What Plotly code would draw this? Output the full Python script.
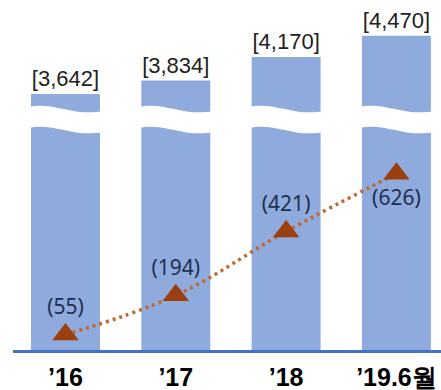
import plotly.graph_objects as go

categories = ["’16", "’17", "’18", "’19.6월"]
bar_values = [3642, 3834, 4170, 4470]
line_values = [55, 194, 421, 626]
line_text_pos = ["top center", "top center", "top center", "bottom center"]

fig = go.Figure()

fig.add_trace(go.Bar(
    x=categories, y=bar_values, width=0.625,
    marker=dict(color="#8FAADC", line=dict(width=0)),
    text=[f"[{v:,}]" for v in bar_values],
    textposition="outside", constraintext="none", cliponaxis=False,
    outsidetextfont=dict(family="Liberation Sans", size=22, color="#222222"),
    showlegend=False,
))

fig.add_trace(go.Scatter(
    x=categories, y=line_values, yaxis="y2", mode="lines",
    line=dict(color="#C0682E", width=3.5, dash="3px,4px", shape="spline", smoothing=1.1),
    showlegend=False, cliponaxis=False,
))

fig.add_trace(go.Scatter(
    x=categories, y=line_values, yaxis="y2", mode="markers+text",
    marker=dict(symbol="triangle-up", size=23, color="#9C3F0F"),
    text=[f"({v})" for v in line_values], textposition=line_text_pos,
    textfont=dict(family="Noto Sans", size=21, color="#1F2F4F"),
    showlegend=False, cliponaxis=False,
))

# wavy white break across each bar (decoration)
H = 350.0
def py(p):
    return (H - p) / H

shapes = []
for i in range(len(categories)):
    x0 = i - 0.34
    x3 = i + 0.34
    w = x3 - x0
    x1 = x0 + 0.35 * w
    x2 = x0 + 0.6 * w
    top = [107, 101, 117, 111]
    bot = [t + 21 for t in top]
    path = (f"M {x0},{py(top[0])} C {x1},{py(top[1])} {x2},{py(top[2])} {x3},{py(top[3])} "
            f"L {x3},{py(bot[3])} C {x2},{py(bot[2])} {x1},{py(bot[1])} {x0},{py(bot[0])} Z")
    shapes.append(dict(type="path", xref="x", yref="paper", path=path,
                       fillcolor="white", line=dict(width=0), layer="above"))

fig.update_layout(
    width=441, height=390,
    margin=dict(l=13, r=0, t=0, b=40),
    paper_bgcolor="white", plot_bgcolor="white",
    shapes=shapes,
    xaxis=dict(range=[-0.4758, 3.404], showgrid=False, zeroline=False,
               showline=True, linecolor="#4472C4", linewidth=3,
               ticks="outside", ticklen=3, tickcolor="rgba(0,0,0,0)",
               tickfont=dict(family="Liberation Sans", size=25, color="#000000", weight="bold")),
    yaxis=dict(range=[0, 4980], visible=False),
    yaxis2=dict(range=[0, 1243], overlaying="y", visible=False),
    bargap=0.376,
)

fig.write_html("out.html")
